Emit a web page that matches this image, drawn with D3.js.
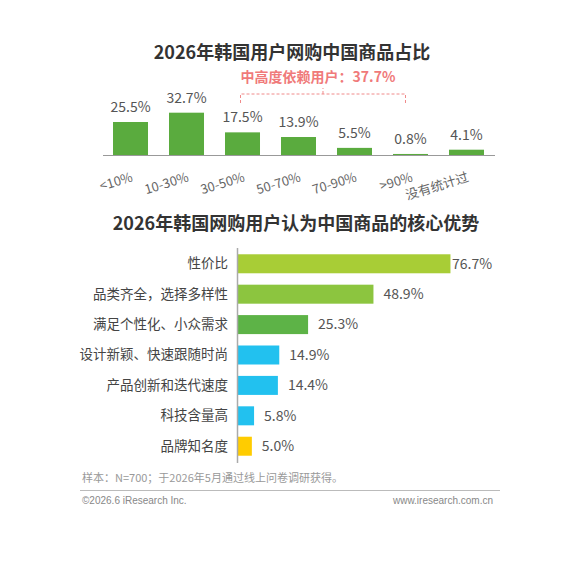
<!DOCTYPE html>
<html>
<head>
<meta charset="utf-8">
<script src="https://cdn.jsdelivr.net/npm/d3@7/dist/d3.min.js"></script>
<style>
  body { margin: 0; background: #fff; }
  text { font-family: "Noto Sans CJK SC", "Noto Sans", sans-serif; }
</style>
</head>
<body>
<div class="svg_container"></div>
<script>
const WIDTH = 565;
const HEIGHT = 565;

// top chart: share of Chinese goods in online shopping
var shareCats = ['<10%', '10-30%', '30-50%', '50-70%', '70-90%', '>90%', '没有统计过'];
var shareValues = [25.5, 32.7, 17.5, 13.9, 5.5, 0.8, 4.1];
var shareNote = '中高度依赖用户：37.7%';

// bottom chart: core advantages
var advCats = ['性价比', '品类齐全，选择多样性', '满足个性化、小众需求', '设计新颖、快速跟随时尚',
               '产品创新和迭代速度', '科技含量高', '品牌知名度'];
var advValues = [76.7, 48.9, 25.3, 14.9, 14.4, 5.8, 5.0];
var advColors = ['#a8cd36', '#8cc53f', '#5db347', '#22c1ef', '#22c1ef', '#22c1ef', '#ffcc00'];

var svg = d3.select('.svg_container').append('svg')
  .attr('width', WIDTH)
  .attr('height', HEIGHT);

var title = function (txt, x, y) {
  svg.append('text')
    .attr('x', x).attr('y', y)
    .attr('text-anchor', 'middle')
    .attr('font-size', 18)
    .attr('font-weight', 700)
    .attr('fill', '#333')
    .text(txt);
};

// ---------- top chart ----------
title('2026年韩国用户网购中国商品占比', 292, 59);

var BASE = 155;
var xTop = d3.scaleBand()
  .domain(shareCats)
  .range([104.5, 492.5])
  .paddingInner(0.375)
  .paddingOuter(0.152);

var yTop = d3.scaleLinear()
  .domain([0, 35])
  .range([BASE, BASE - 35 * 1.294]);

svg.append('g').selectAll('rect')
  .data(shareValues).enter().append('rect')
  .attr('x', function (d, i) { return xTop(shareCats[i]); })
  .attr('y', function (d) { return yTop(d); })
  .attr('width', xTop.bandwidth())
  .attr('height', function (d) { return BASE - yTop(d); })
  .attr('fill', '#5aab3e');

svg.append('g').selectAll('text')
  .data(shareValues).enter().append('text')
  .attr('x', function (d, i) { return xTop(shareCats[i]) + xTop.bandwidth() / 2; })
  .attr('y', function (d) { return yTop(d) - 10; })
  .attr('text-anchor', 'middle')
  .attr('font-size', 14)
  .attr('fill', '#555')
  .text(function (d) { return d.toFixed(1) + '%'; });

var xAxis = d3.axisBottom(xTop).tickSize(0).tickPadding(0);
var gx = svg.append('g')
  .attr('transform', 'translate(0,' + BASE + ')')
  .call(xAxis);
gx.select('.domain').remove();
svg.append('line')
  .attr('x1', 103).attr('x2', 495)
  .attr('y1', BASE + 0.5).attr('y2', BASE + 0.5)
  .attr('stroke', '#999');
gx.selectAll('.tick text')
  .attr('font-family', '"Noto Sans CJK SC", sans-serif')
  .attr('font-size', 13)
  .attr('fill', '#666')
  .attr('text-anchor', 'end')
  .attr('y', 0).attr('dy', 0)
  .attr('transform', 'translate(3,26) rotate(-17)');

// bracket for medium/high dependency users
var bx0 = xTop('30-50%') + xTop.bandwidth() / 2 - 2;
var bx1 = xTop('>90%') + xTop.bandwidth() / 2 - 5;
var by = 94;
var bmid = (bx0 + bx1) / 2;
var bracket = svg.append('g')
  .attr('fill', 'none')
  .attr('stroke', '#f08a8a')
  .attr('stroke-width', 1)
  .attr('stroke-dasharray', '3,2');
bracket.append('path')
  .attr('d', 'M' + bx0 + ',' + (by + 9) + 'V' + by + 'H' + bx1 + 'V' + (by + 9));
bracket.append('line')
  .attr('x1', bmid).attr('x2', bmid)
  .attr('y1', by).attr('y2', by - 6)
  .attr('stroke-dasharray', null);
svg.append('text')
  .attr('x', bmid - 5).attr('y', 82)
  .attr('text-anchor', 'middle')
  .attr('font-size', 14)
  .attr('font-weight', 700)
  .attr('fill', '#f07a7a')
  .text(shareNote);

// ---------- bottom chart ----------
title('2026年韩国网购用户认为中国商品的核心优势', 296, 230);

var X0 = 238;
var xAdv = d3.scaleLinear()
  .domain([0, 100])
  .range([X0, X0 + 277]);
var yAdv = d3.scaleBand()
  .domain(advCats)
  .range([248.5, 461.5])
  .paddingInner(0.375)
  .paddingOuter(0.19);

svg.append('g').selectAll('rect')
  .data(advValues).enter().append('rect')
  .attr('x', X0)
  .attr('y', function (d, i) { return yAdv(advCats[i]); })
  .attr('width', function (d) { return xAdv(d) - X0; })
  .attr('height', yAdv.bandwidth())
  .attr('fill', function (d, i) { return advColors[i]; });

svg.append('g').selectAll('text')
  .data(advValues).enter().append('text')
  .attr('x', function (d) { return Math.min(xAdv(d) + 10, 452); })
  .attr('y', function (d, i) { return yAdv(advCats[i]) + yAdv.bandwidth() / 2; })
  .attr('dy', '0.35em')
  .attr('font-size', 14)
  .attr('fill', '#555')
  .text(function (d) { return d.toFixed(1) + '%'; });

var yAxis = d3.axisLeft(yAdv).tickSize(0).tickPadding(10);
var gy = svg.append('g')
  .attr('transform', 'translate(' + X0 + ',0)')
  .call(yAxis);
gy.select('.domain').remove();
gy.selectAll('.tick text')
  .attr('font-family', '"Noto Sans CJK SC", sans-serif')
  .attr('font-size', 13.5)
  .attr('fill', '#444');
svg.append('line')
  .attr('x1', X0 - 0.5).attr('x2', X0 - 0.5)
  .attr('y1', 248).attr('y2', 463)
  .attr('stroke', '#aaa')
  .attr('stroke-width', 1.5);

// ---------- footer ----------
svg.append('text')
  .attr('x', 82).attr('y', 482)
  .attr('font-size', 11)
  .attr('fill', '#999')
  .text('样本：N=700；于2026年5月通过线上问卷调研获得。');
svg.append('line')
  .attr('x1', 80).attr('x2', 500)
  .attr('y1', 490.5).attr('y2', 490.5)
  .attr('stroke', '#bbb');
svg.append('text')
  .attr('x', 82).attr('y', 504)
  .attr('font-size', 10)
  .attr('fill', '#888')
  .style('font-family', '"Liberation Sans", Arial, sans-serif')
  .text('©2026.6 iResearch Inc.');
svg.append('text')
  .attr('x', 493).attr('y', 504)
  .attr('text-anchor', 'end')
  .attr('font-size', 10)
  .attr('fill', '#888')
  .style('font-family', '"Liberation Sans", Arial, sans-serif')
  .text('www.iresearch.com.cn');
</script>
</body>
</html>
